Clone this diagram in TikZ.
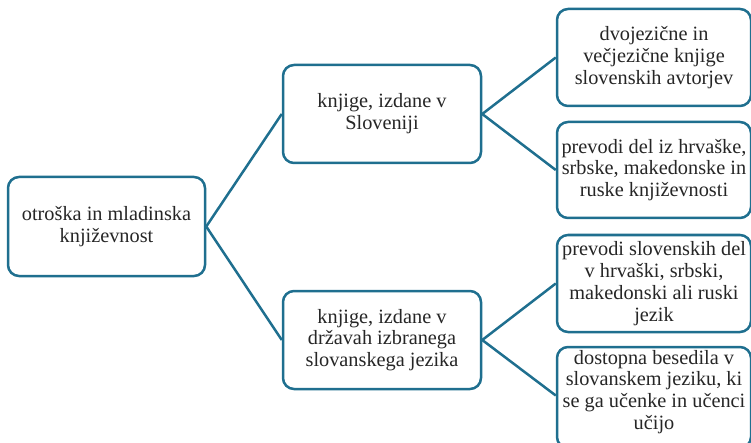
\documentclass[tikz,border=0pt]{standalone}
\usepackage{fontspec}
\setmainfont{Liberation Serif}
\definecolor{teal1}{HTML}{1F6F8F}
\begin{document}
\begin{tikzpicture}[x=1pt,y=1pt,
  box/.style={draw=teal1, line width=2.5pt, rounded corners=11pt, fill=white,
    minimum width=#1, inner sep=0pt},
  box/.default=197pt,
  txt/.style={align=center, font=\fontsize{20.3}{21.8}\selectfont, text=black!85},
  conn/.style={draw=teal1, line width=2.5pt}]
\useasboundingbox (0,0) rectangle (751,442);
% root
\node[box=197pt, minimum height=99pt] (root) at (106.5,442-226.5) {};
\node[txt] (roott) at (root.center) {otroška in mladinska\\književnost};
% middle
\node[box=198pt, minimum height=98pt] (m1) at (382,442-114) {};
\node[txt] (m1t) at (m1.center) {knjige, izdane v\\Sloveniji};
\node[box=198pt, minimum height=98pt] (m2) at (382,442-340) {};
\node[txt] (m2t) at (m2.center) {knjige, izdane v\\državah izbranega\\slovanskega jezika};
% right
\node[box=194pt, minimum height=97pt] (r1) at (654,442-57.5) {};
\node[txt] (r1t) at (r1.center) {dvojezične in\\večjezične knjige\\slovenskih avtorjev};
\node[box=194pt, minimum height=96pt] (r2) at (654,442-170) {};
\node[txt] (r2t) at (r2.center) {prevodi del iz hrvaške,\\srbske, makedonske in\\ruske književnosti};
\node[box=194pt, minimum height=97pt] (r3) at (654,442-283.5) {};
\node[txt] (r3t) at (r3.center) {prevodi slovenskih del\\v hrvaški, srbski,\\makedonski ali ruski\\jezik};
\node[box=194pt, minimum height=101pt] (r4) at (654,442-397.5) {};
\node[txt] (r4t) at (654,442-392) {dostopna besedila v\\slovanskem jeziku, ki\\se ga učenke in učenci\\učijo};
% connectors
\draw[conn] (root.east) -- (m1.west);
\draw[conn] (root.east) -- (m2.west);
\draw[conn] (m1.east) -- (r1.west);
\draw[conn] (m1.east) -- (r2.west);
\draw[conn] (m2.east) -- (r3.west);
\draw[conn] (m2.east) -- ([yshift=2pt]r4.west);
\end{tikzpicture}
\end{document}
